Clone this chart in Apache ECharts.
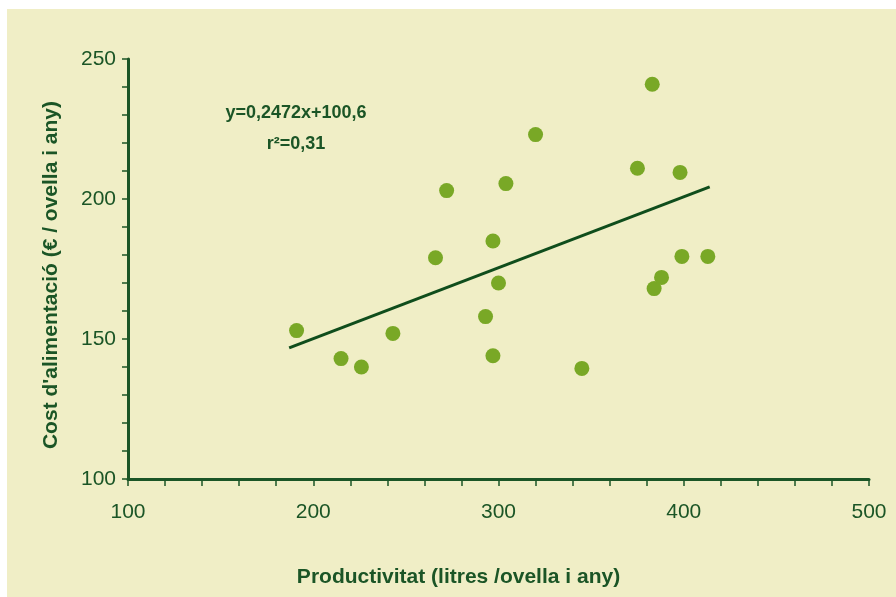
<!DOCTYPE html>
<html>
<head>
<meta charset="utf-8">
<script src="https://cdn.jsdelivr.net/npm/echarts@6/dist/echarts.min.js"></script>
<style>
html,body{margin:0;padding:0;background:#ffffff;}
#c{width:896px;height:597px;}
</style>
</head>
<body>
<div id="c"></div>
<script>
// Data
const productivitat = [191, 215, 226, 243, 266, 272, 293, 297, 297, 300, 304, 320, 345, 375, 383, 384, 388, 398, 399, 413];
const costAlimentacio = [153, 143, 140, 152, 179, 203, 158, 185, 144, 170, 205.5, 223, 139.5, 211, 241, 168, 172, 209.5, 179.5, 179.5];
const trendX = [187, 414];
const trendY = [146.8, 204.3];
const equationText = 'y=0,2472x+100,6';
const r2Text = 'r\u00B2=0,31';
const xAxisName = 'Productivitat (litres /ovella i any)';
const yAxisName = "Cost d'alimentació (€ / ovella i any)";

const dark = '#1b5526';
const dot = '#79a826';
const font = '"Liberation Sans", Arial, Helvetica, sans-serif';

const points = productivitat.map((x, i) => [x, costAlimentacio[i]]);
const trend = trendX.map((x, i) => [x, trendY[i]]);

const chart = echarts.init(document.getElementById('c'));
chart.setOption({
  animation: false,
  backgroundColor: '#ffffff',
  textStyle: { fontFamily: font },
  grid: { left: 128, top: 59, right: 27, bottom: 118, containLabel: false },
  graphic: [
    { type: 'rect', z: -10, shape: { x: 7, y: 9, width: 889, height: 588 }, style: { fill: '#f0eec6' }, silent: true },
    { type: 'text', z: 10, x: 296, y: 113, style: { text: equationText, fill: dark, font: 'bold 18px ' + font, textAlign: 'center', textVerticalAlign: 'middle' } },
    { type: 'text', z: 10, x: 296, y: 144, style: { text: r2Text, fill: dark, font: 'bold 18px ' + font, textAlign: 'center', textVerticalAlign: 'middle' } }
  ],
  xAxis: {
    type: 'value', min: 100, max: 500, interval: 100,
    name: xAxisName, nameLocation: 'middle', nameGap: 88,
    nameTextStyle: { color: dark, fontWeight: 'bold', fontSize: 21, fontFamily: font, padding: [0, 80, 0, 0] },
    axisLine: { show: true, onZero: false, lineStyle: { color: dark, width: 3 } },
    axisTick: { show: true, length: 7, lineStyle: { color: dark, width: 1.5 } },
    minorTick: { show: true, splitNumber: 5, length: 7, lineStyle: { color: dark, width: 1.5 } },
    axisLabel: { color: dark, fontSize: 21, margin: 23, fontFamily: font },
    splitLine: { show: false }
  },
  yAxis: {
    type: 'value', min: 100, max: 250, interval: 50,
    name: yAxisName, nameLocation: 'middle', nameGap: 66, nameRotate: 90,
    nameTextStyle: { color: dark, fontWeight: 'bold', fontSize: 21, fontFamily: font, padding: [0, 12, 0, 0] },
    axisLine: { show: true, onZero: false, lineStyle: { color: dark, width: 3 } },
    axisTick: { show: true, length: 6, lineStyle: { color: dark, width: 1.5 } },
    minorTick: { show: true, splitNumber: 5, length: 6, lineStyle: { color: dark, width: 1.5 } },
    axisLabel: { color: dark, fontSize: 21, margin: 12, fontFamily: font },
    splitLine: { show: false }
  },
  series: [
    {
      type: 'line', data: trend, symbol: 'none', z: 2,
      lineStyle: { color: '#0f4d1c', width: 3 }
    },
    {
      type: 'scatter', data: points, symbol: 'circle', symbolSize: 15, z: 3,
      itemStyle: { color: dot, opacity: 1 }
    }
  ]
});
</script>
</body>
</html>
